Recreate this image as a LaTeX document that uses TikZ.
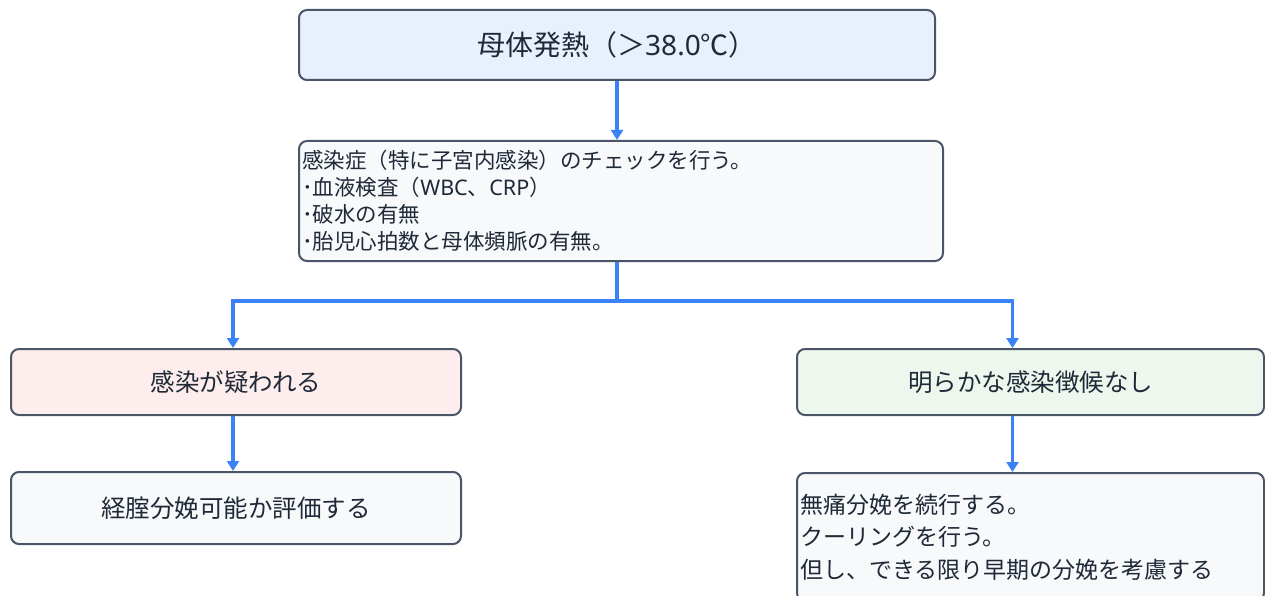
\documentclass[tikz,border=0pt]{standalone}
\usepackage{fontspec}
\newfontfamily\cjk{Noto Sans CJK JP}
\newfontfamily\lat{Noto Sans}
\usetikzlibrary{arrows.meta}
\definecolor{bordc}{HTML}{4A5568}
\definecolor{linkc}{HTML}{3B82F6}
\definecolor{txtc}{HTML}{1F2937}
\definecolor{fblue}{HTML}{E8F0FE}
\definecolor{fgray}{HTML}{F7F9FB}
\definecolor{fpink}{HTML}{FDEDED}
\definecolor{fgreen}{HTML}{EDF7EE}
\tikzset{
  box/.style={draw=bordc, line width=2pt, rounded corners=8pt, text=txtc, inner sep=2pt},
  link/.style={draw=linkc, line width=3.2pt, -{Triangle[width=12pt,length=10pt]}},
  midtxt/.style={font=\cjk\fontsize{24.5}{28}\selectfont},
}
\begin{document}
\begin{tikzpicture}[x=1pt,y=-1pt]
\useasboundingbox (0,0) rectangle (1265,596);
\fill[white] (0,0) rectangle (1265,596);
\node[box, fill=fblue, font=\cjk\fontsize{28}{32}\selectfont, minimum width=636pt, minimum height=70pt] (fever) at (617,45) {母体発熱（＞{\lat 38.0}℃）};
\node[box, fill=fgray, font=\cjk\fontsize{21.5}{27}\selectfont, align=left, minimum width=644pt, minimum height=120pt, text width=638pt] (check) at (621,201) {感染症（特に子宮内感染）のチェックを行う。\\･血液検査（{\lat WBC}、{\lat CRP}）\\･破水の有無\\･胎児心拍数と母体頻脈の有無。};
\node[box, fill=fpink, midtxt, minimum width=450pt, minimum height=66pt] (sus) at (236,382) {感染が疑われる};
\node[box, fill=fgreen, midtxt, minimum width=467pt, minimum height=66pt] (nosign) at (1030.5,382) {明らかな感染徴候なし};
\node[box, fill=fgray, midtxt, minimum width=450pt, minimum height=72pt] (eval) at (236,508) {経腟分娩可能か評価する};
\node[box, fill=fgray, font=\cjk\fontsize{23}{32.5}\selectfont, align=left, text width=461pt, minimum width=467pt, minimum height=128pt] (cont) at (1030.5,537) {無痛分娩を続行する。\\クーリングを行う。\\但し、できる限り早期の分娩を考慮する};
\coordinate (split) at (617,301);
\draw[link] (fever.south -| split) -- (check.north -| split);
\draw[link] (check.south -| split) -- (split) -| ([xshift=-3pt]sus.north);
\draw[link] (split) -| ([xshift=-18pt]nosign.north);
\draw[link] ([xshift=-3pt]sus.south) -- ([xshift=-3pt]eval.north);
\draw[link] ([xshift=-18pt]nosign.south) -- ([xshift=-18pt]cont.north);
\end{tikzpicture}
\end{document}
